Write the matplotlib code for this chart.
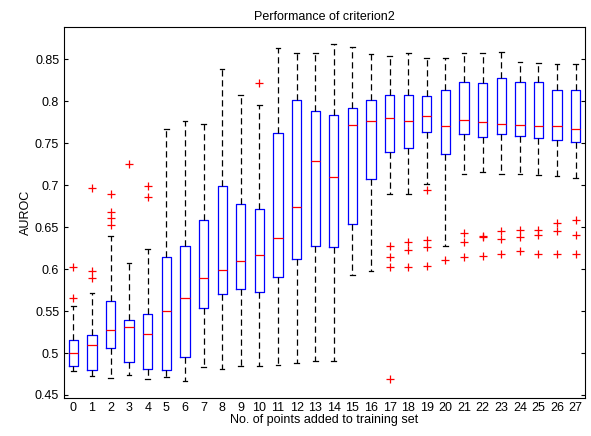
import matplotlib
matplotlib.use('Agg')
import matplotlib.pyplot as plt

# box statistics, one entry per number of added points
points = list(range(28))
whislo = [0.478, 0.473, 0.470, 0.474, 0.469, 0.471, 0.467, 0.483, 0.481, 0.484,
          0.484, 0.486, 0.488, 0.490, 0.490, 0.593, 0.598, 0.690, 0.690, 0.702,
          0.628, 0.713, 0.716, 0.713, 0.713, 0.712, 0.711, 0.709]
q1 = [0.485, 0.480, 0.506, 0.489, 0.481, 0.480, 0.495, 0.554, 0.570, 0.576,
      0.573, 0.591, 0.612, 0.628, 0.626, 0.654, 0.707, 0.739, 0.744, 0.763,
      0.737, 0.761, 0.757, 0.761, 0.759, 0.756, 0.754, 0.751]
med = [0.500, 0.510, 0.528, 0.531, 0.523, 0.550, 0.565, 0.589, 0.599, 0.610,
       0.617, 0.637, 0.674, 0.729, 0.710, 0.772, 0.776, 0.780, 0.776, 0.782,
       0.771, 0.778, 0.775, 0.773, 0.772, 0.771, 0.770, 0.767]
q3 = [0.515, 0.522, 0.562, 0.539, 0.547, 0.615, 0.628, 0.658, 0.699, 0.678,
      0.672, 0.762, 0.802, 0.788, 0.784, 0.792, 0.801, 0.808, 0.808, 0.806,
      0.813, 0.823, 0.822, 0.828, 0.823, 0.823, 0.814, 0.814]
whishi = [0.556, 0.572, 0.639, 0.607, 0.624, 0.767, 0.777, 0.773, 0.839, 0.808,
          0.796, 0.864, 0.858, 0.858, 0.868, 0.865, 0.856, 0.854, 0.857, 0.852,
          0.851, 0.857, 0.857, 0.859, 0.847, 0.846, 0.845, 0.844]
fliers = [
    [0.602, 0.566],
    [0.697, 0.598, 0.589],
    [0.690, 0.668, 0.661, 0.652],
    [0.725],
    [0.699, 0.686],
    [], [], [], [], [],
    [0.822],
    [], [], [], [], [], [],
    [0.627, 0.614, 0.603, 0.469],
    [0.632, 0.623, 0.603],
    [0.694, 0.635, 0.626, 0.604],
    [0.611],
    [0.643, 0.632, 0.615],
    [0.640, 0.638, 0.616],
    [0.645, 0.636, 0.618],
    [0.647, 0.638, 0.621],
    [0.647, 0.641, 0.618],
    [0.655, 0.646, 0.618],
    [0.659, 0.641, 0.618],
]

stats = []
for i in range(len(points)):
    stats.append({'whislo': whislo[i], 'q1': q1[i], 'med': med[i],
                  'q3': q3[i], 'whishi': whishi[i], 'fliers': fliers[i],
                  'label': str(points[i])})

plt.rcParams['font.family'] = ['Liberation Sans', 'DejaVu Sans']
fig = plt.figure(figsize=(5.91, 4.36), dpi=100)
ax = fig.add_axes([0.1083, 0.0872, 0.8815, 0.8508])

ax.bxp(stats, positions=points, widths=0.5,
       boxprops=dict(color='#0000ff', linewidth=0.9),
       medianprops=dict(color='#ff0000', linewidth=0.9),
       whiskerprops=dict(color='black', linestyle=(0, (5, 3)), linewidth=0.9),
       capprops=dict(color='black', linewidth=0.9),
       flierprops=dict(marker='+', markeredgecolor='#ff0000', markersize=6,
                       linestyle='none', markeredgewidth=0.9),
       capwidths=0.25)

ax.set_xlim(-0.5, 27.5)
ax.set_ylim(0.4464, 0.8885)
ax.set_xticks(points)
ax.set_xticklabels([str(p) for p in points])
ax.set_yticks([0.45, 0.5, 0.55, 0.6, 0.65, 0.7, 0.75, 0.8, 0.85])
ax.set_yticklabels(['0.45', '0.5', '0.55', '0.6', '0.65', '0.7', '0.75', '0.8', '0.85'])
ax.tick_params(direction='in', right=True, top=False, labelsize=9, length=3)
ax.tick_params(axis='x', length=0, pad=3)

ax.set_title('Performance of criterion2', fontsize=9, pad=5)
ax.set_xlabel('No. of points added to training set', fontsize=9, labelpad=0)
ax.set_ylabel('AUROC', fontsize=9, labelpad=2)

plt.savefig('out.png', dpi=100)
